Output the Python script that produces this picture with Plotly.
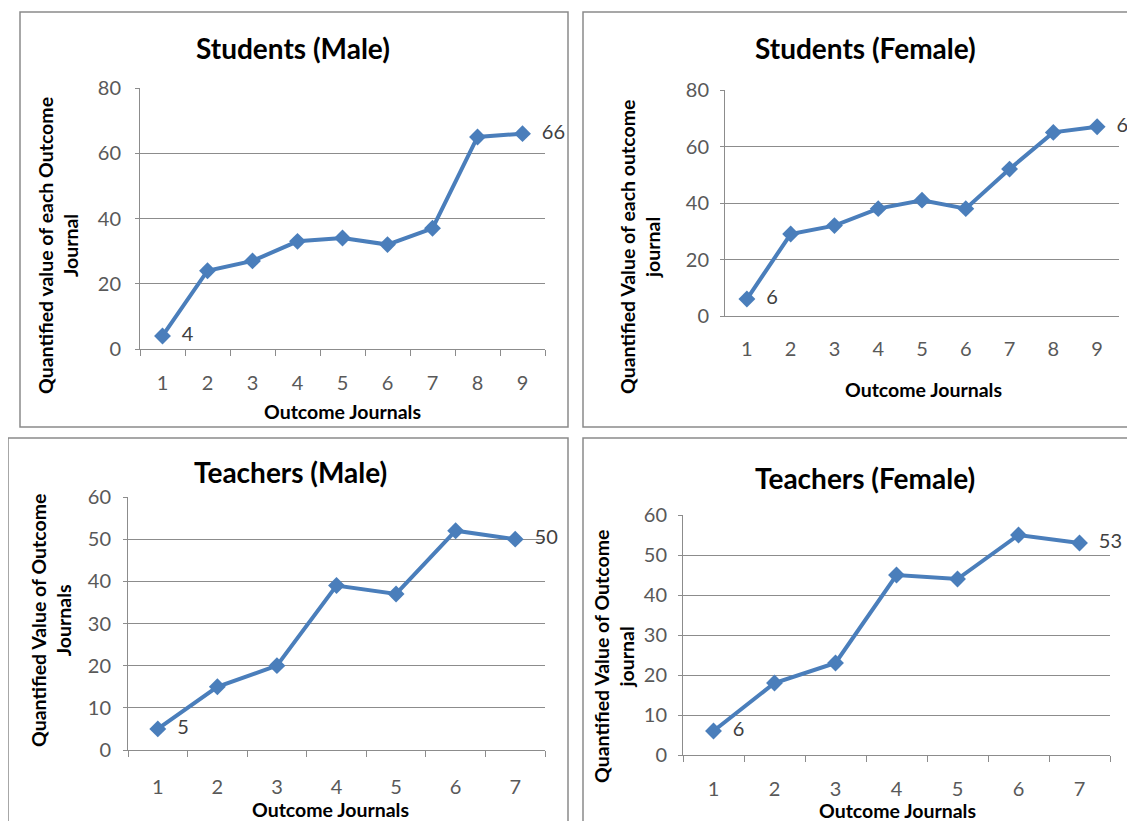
import plotly.graph_objects as go

# ---------------- data ----------------
students_x = [1, 2, 3, 4, 5, 6, 7, 8, 9]
students_male = [4, 24, 27, 33, 34, 32, 37, 65, 66]
students_female = [6, 29, 32, 38, 41, 38, 52, 65, 67]
teachers_x = [1, 2, 3, 4, 5, 6, 7]
teachers_male = [5, 15, 20, 39, 37, 52, 50]
teachers_female = [6, 18, 23, 45, 44, 55, 53]

titles = ["Students (Male)", "Students (Female)", "Teachers (Male)", "Teachers (Female)"]
ytitles = ["Quantified value of each Outcome<br>Journal",
           "Quantified Value of each outcome<br>journal",
           "Quantified Value of Outcome<br>Journals",
           "Quantified Value of Outcome<br>journal"]
xtitle = "Outcome Journals"

W, H = 1135, 821
OFF = 8  # page body margin
FONT = "Lato"
BLUE = "#4A7EBB"
GRID = "#8C8C8C"
TXT = "#595959"

def px(x):
    return (x - OFF) / W

def py(y):
    return 1 - (y - OFF) / H

panels = [
    dict(x=students_x, y=students_male, xd=(140, 545), yd=(88, 349), yr=80, dt=20,
         ticks=True, xstand=16, ystand=10, title=(293, 48), ytit=(58, 246), xtit=(342, 411)),
    dict(x=students_x, y=students_female, xd=(725, 1119), yd=(90, 316), yr=80, dt=20,
         ticks=False, xstand=15, ystand=7, title=(865, 48), ytit=(640, 247), xtit=(923, 389)),
    dict(x=teachers_x, y=teachers_male, xd=(128, 545), yd=(497, 750), yr=60, dt=10,
         ticks=True, xstand=19, ystand=8, title=(290, 472), ytit=(51, 621), xtit=(330, 809)),
    dict(x=teachers_x, y=teachers_female, xd=(683, 1110), yd=(515, 755), yr=60, dt=10,
         ticks=True, xstand=16, ystand=7, title=(865, 478), ytit=(614, 657), xtit=(897, 810)),
]

fig = go.Figure()
layout = dict(width=W, height=H, margin=dict(l=0, r=0, t=0, b=0, autoexpand=False),
              paper_bgcolor="white", plot_bgcolor="white", showlegend=False,
              font=dict(family=FONT, color=TXT))
annotations = []

for i, p in enumerate(panels):
    n = i + 1
    xa = "x" if n == 1 else f"x{n}"
    ya = "y" if n == 1 else f"y{n}"
    labels = [f"  {v}" if (k == 0 or k == len(p["y"]) - 1) else "" for k, v in enumerate(p["y"])]
    fig.add_trace(go.Scatter(
        x=[str(v) for v in p["x"]], y=p["y"], xaxis=xa, yaxis=ya,
        mode="lines+markers+text", text=labels, textposition="middle right",
        textfont=dict(family=FONT, size=20, color="#404040"),
        line=dict(color=BLUE, width=4),
        marker=dict(symbol="diamond", size=13, color=BLUE),
        cliponaxis=False, hoverinfo="skip"))
    xkey = "xaxis" if n == 1 else f"xaxis{n}"
    ykey = "yaxis" if n == 1 else f"yaxis{n}"
    layout[xkey] = dict(
        type="category", domain=[px(p["xd"][0]), px(p["xd"][1])], anchor=ya,
        range=[-0.5, len(p["x"]) - 0.5], autorange=False,
        tickson="boundaries", ticks="outside" if p["ticks"] else "",
        ticklen=6, tickcolor=GRID, showline=True, linecolor=GRID, linewidth=1,
        showgrid=False, tickfont=dict(family=FONT, size=20, color=TXT),
        ticklabelstandoff=p["xstand"], fixedrange=True)
    layout[ykey] = dict(
        domain=[py(p["yd"][1]), py(p["yd"][0])], anchor=xa,
        range=[0, p["yr"]], dtick=p["dt"], tick0=0,
        ticks="outside", ticklen=4, tickcolor=GRID,
        showline=True, linecolor=GRID, linewidth=1,
        showgrid=True, gridcolor=GRID, gridwidth=1, zeroline=False,
        tickfont=dict(family=FONT, size=20, color=TXT),
        ticklabelstandoff=p["ystand"], fixedrange=True)
    annotations.append(dict(text=f"<b>{titles[i]}</b>", x=px(p["title"][0]), y=py(p["title"][1]),
                            xref="paper", yref="paper", showarrow=False,
                            xanchor="center", yanchor="middle",
                            font=dict(family=FONT, size=28, color="#000000")))
    annotations.append(dict(text=f"<b>{ytitles[i]}</b>", x=px(p["ytit"][0]), y=py(p["ytit"][1]),
                            xref="paper", yref="paper", showarrow=False, textangle=-90,
                            xanchor="center", yanchor="middle",
                            font=dict(family=FONT, size=19.5, color="#000000")))
    annotations.append(dict(text=f"<b>{xtitle}</b>", x=px(p["xtit"][0]), y=py(p["xtit"][1]),
                            xref="paper", yref="paper", showarrow=False,
                            xanchor="center", yanchor="middle",
                            font=dict(family=FONT, size=19.5, color="#000000")))

layout["annotations"] = annotations

border = dict(color="#8A8A8A", width=1.5)
layout["shapes"] = [
    dict(type="rect", xref="paper", yref="paper", x0=px(20), x1=px(568), y0=py(427), y1=py(12), line=border),
    dict(type="rect", xref="paper", yref="paper", x0=px(583), x1=px(1150), y0=py(427), y1=py(12), line=border),
    dict(type="rect", xref="paper", yref="paper", x0=px(8), x1=px(568), y0=py(840), y1=py(438), line=border),
    dict(type="rect", xref="paper", yref="paper", x0=px(583), x1=px(1150), y0=py(840), y1=py(438), line=border),
]

fig.update_layout(**layout)
fig.write_html("out.html")
